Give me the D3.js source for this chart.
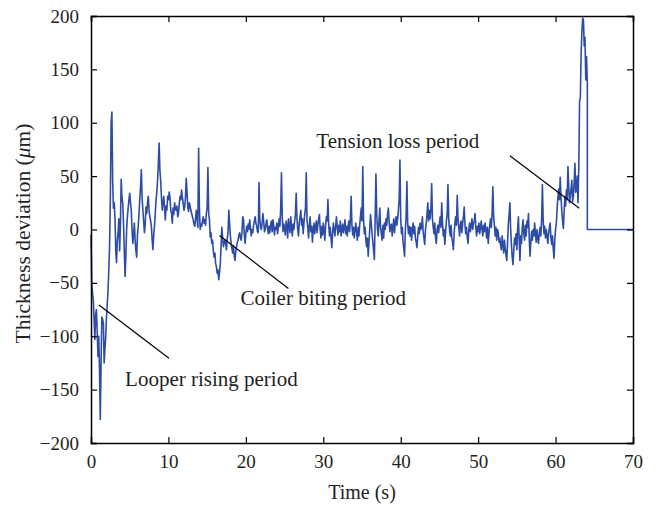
<!DOCTYPE html>
<html>
<head>
<meta charset="utf-8">
<script src="https://cdn.jsdelivr.net/npm/d3@7"></script>
<style>
  body { margin: 0; background: #fff; }
  text { font-family: "Liberation Serif", "DejaVu Serif", serif; fill: #231f20; }
</style>
</head>
<body>
<svg id="chart" width="663" height="506"></svg>
<script>
// sampled thickness deviation (um), one sample every 0.1 s from t = 0
var sampleStep = 0.1;
var deviation = [
  -5, -50, -60, -66, -85, -103, -80, -75, -95, -119,
  -100, -131, -178, -125, -82, -84, -88, -125, -112, -100,
  -82, -70, -57, -38, -15, 30, 100, 110, 45, 20,
  25, 10, -20, -31, -10, -3, 10, -20, 5, 47,
  30, 25, 5, -20, -44, -25, 0, 12, 20, 28,
  34, 25, 18, 0, -13, -5, 6, -10, -20, -26,
  -5, 3, 15, 28, 40, 56, 30, 18, 8, -3,
  5, 21, 15, 25, 31, 18, 12, 8, 3, -10,
  -19, -5, 3, 15, 28, 35, 46, 62, 81, 55,
  46, 30, 18, 25, 31, 20, 9, 22, 18, 31,
  28, 35, 30, 18, 15, 6, 20, 14, 25, 19,
  18, 22, 12, 15, 24, 31, 28, 37, 30, 25,
  18, 21, 30, 48, 35, 21, 17, 25, 22, 18,
  15, 12, 9, 5, 3, 10, 18, 10, 2, 76,
  20, 0, 5, 3, 8, 12, 6, 9, 4, 15,
  20, 58, 15, 9, -7, -3, -13, -10, -20, -26,
  -22, -32, -35, -41, -38, -47, -40, -32, -15, 2,
  -8, -16, -12, -10, -14, -19, -8, -3, 18, 5,
  -6, -13, -18, -22, -15, -25, -29, -20, -16, -12,
  -10, -5, -3, -8, -10, -2, 12, 9, -5, -13,
  -4, 3, -2, 5, 0, 9, 2, -6, 0, -3,
  4, 8, 12, 6, 3, -2, -3, 44, 10, 2,
  0, 6, 15, 8, -2, 0, 5, 9, 2, -4,
  3, -3, 4, 8, -2, 9, 3, -5, 2, 0,
  6, -4, 3, 10, 3, 20, 53, 12, -2, 5,
  2, -5, 8, 3, -8, 10, 4, -3, 12, 2,
  -6, 5, 0, 8, 14, 34, 10, 0, -6, 6,
  12, 18, 4, 10, -4, 6, 14, 20, 53, 8,
  2, -8, 4, 12, -2, 3, -12, 0, 6, -4,
  2, 8, -3, 4, 10, 14, 0, -8, 3, -5,
  6, 0, -10, 4, 12, 8, 28, 5, -6, 2,
  -8, -17, -4, 6, 0, -6, 3, 12, 2, -5,
  4, -2, 8, -6, 0, 5, -3, 2, 9, -4,
  3, -6, 2, 8, -2, 10, 31, 4, -5, 2,
  -8, 0, 6, -3, -10, 2, -6, 4, 12, 20,
  8, 59, 10, -4, 2, -10, -16, -8, -25, -12,
  0, 14, 6, -4, -12, -20, -28, 10, 52, 15,
  0, -6, 8, 20, 2, -4, -10, 4, -8, 6,
  0, 10, 4, 14, 20, 8, -2, 4, 5, -6,
  2, 10, -3, 6, 12, 4, 10, 18, 28, 65,
  10, -4, 2, -12, -18, -25, 0, 12, 45, 6,
  -4, 3, -6, 2, -10, 0, 6, -4, 3, -8,
  -12, -17, -6, 2, -4, 6, 0, 3, 12, -2,
  -8, -14, 0, 6, 14, 25, 8, 18, 10, 20,
  43, 10, 2, -4, 6, -8, -13, 0, 4, -3,
  6, 12, 2, 25, 6, -6, 0, -14, -2, 8,
  14, 42, 10, 0, -6, 4, -8, -12, -19, -4,
  6, 12, 4, 32, 10, 2, -6, 4, 8, -3,
  6, 12, 21, 4, -4, 2, -8, -13, 0, 6,
  -2, 4, 10, 0, 6, 8, 15, 2, -6, 3,
  -2, 6, -4, 2, 8, 0, -6, 4, -2, 6,
  0, -8, 2, -13, -4, 4, 10, 2, 14, 40,
  12, 4, -6, 2, -10, 0, -3, -12, -8, -15,
  -19, -6, -14, -22, -10, -18, -24, -29, -12, 5,
  14, 25, 0, -14, -26, -33, -20, -8, -14, -4,
  -19, 0, 12, -10, -29, -6, -13, 2, 9, -4,
  -10, 4, -6, 8, 2, 15, -8, -25, -12, -2,
  -10, 0, -6, 6, -4, -12, 0, -8, -13, -4,
  2, -6, 10, 42, 8, -4, 3, -8, 0, -6,
  -13, -4, 2, 6, -8, -14, -6, -18, -27, -10,
  0, 6, 20, 30, 38, 28, 49, 30, 18, 8,
  1, 15, 31, 22, 37, 28, 59, 40, 25, 31,
  38, 46, 26, 31, 44, 62, 35, 37, 50, 25,
  60, 120, 124, 165, 185, 198, 196, 172, 180, 140,
  162, 137
];
// after the strip leaves the mill the trace sits at zero
var tailTime = [64.1, 70];
var tailValue = [0, 0];

var xTicks = [0, 10, 20, 30, 40, 50, 60, 70];
var yTicks = [-200, -150, -100, -50, 0, 50, 100, 150, 200];

// annotations (data units)
var noteText = ["Looper rising period", "Coiler biting period", "Tension loss period"];
var noteTextT = [4.4, 19.3, 29.1];
var noteTextV = [-147, -71, 76];
var noteFromT = [1.03, 16.6, 54.1];
var noteFromV = [-70.7, -5.6, 69.1];
var noteToT = [10.07, 25.5, 63.06];
var noteToV = [-120.7, -55.3, 19.9];

var margin = {top: 16, right: 30, bottom: 63, left: 91},
    width = 663 - margin.left - margin.right,
    height = 506 - margin.top - margin.bottom;

var svg = d3.select("#chart");
var g = svg.append("g")
  .attr("transform", "translate(" + margin.left + "," + margin.top + ")");

var x = d3.scaleLinear().domain([0, 70]).range([0, width]);
var y = d3.scaleLinear().domain([-200, 200]).range([height, 0]);

var points = deviation.map(function (v, i) { return [i * sampleStep, v]; });
tailTime.forEach(function (t, i) { points.push([t, tailValue[i]]); });

var line = d3.line()
  .x(function (d) { return x(d[0]); })
  .y(function (d) { return y(d[1]); });

g.append("path")
  .datum(points)
  .attr("fill", "none")
  .attr("stroke", "#2d4ca5")
  .attr("stroke-width", 1.6)
  .attr("stroke-linejoin", "round")
  .attr("d", line);

// annotation leader lines + labels
noteText.forEach(function (txt, i) {
  g.append("line")
    .attr("x1", x(noteFromT[i])).attr("y1", y(noteFromV[i]))
    .attr("x2", x(noteToT[i])).attr("y2", y(noteToV[i]))
    .attr("stroke", "#000")
    .attr("stroke-width", 1.2);
  g.append("text")
    .attr("x", x(noteTextT[i]))
    .attr("y", y(noteTextV[i]))
    .attr("font-size", "21px")
    .text(txt);
});

// axes, matlab style box with inward ticks
function styleAxis(sel) {
  sel.select(".domain").attr("stroke", "#000").attr("stroke-width", 1.5);
  sel.selectAll(".tick line").attr("stroke", "#000").attr("stroke-width", 1.2);
  sel.selectAll(".tick text")
    .attr("font-family", '"Liberation Serif", serif')
    .attr("font-size", "19px")
    .attr("fill", "#231f20");
}

g.append("g")
  .attr("transform", "translate(0," + height + ")")
  .call(d3.axisBottom(x).tickValues(xTicks).tickSize(-6).tickPadding(12).tickFormat(d3.format("d")))
  .call(styleAxis);

g.append("g")
  .call(d3.axisTop(x).tickValues(xTicks).tickSize(-6).tickFormat(""))
  .call(styleAxis);

g.append("g")
  .call(d3.axisLeft(y).tickValues(yTicks).tickSize(-6).tickPadding(12)
    .tickFormat(function (d) { return d < 0 ? "\u2212" + Math.abs(d) : d; }))
  .call(styleAxis);

g.append("g")
  .attr("transform", "translate(" + width + ",0)")
  .call(d3.axisRight(y).tickValues(yTicks).tickSize(-6).tickFormat(""))
  .call(styleAxis);

// axis titles
svg.append("text")
  .attr("x", margin.left + width / 2)
  .attr("y", 499)
  .attr("text-anchor", "middle")
  .attr("font-size", "20px")
  .text("Time (s)");

var yl = svg.append("text")
  .attr("transform", "translate(30," + (margin.top + height / 2 + 4) + ") rotate(-90)")
  .attr("text-anchor", "middle")
  .attr("font-size", "21.5px");
yl.append("tspan").text("Thickness deviation (");
yl.append("tspan").attr("font-style", "italic").text("\u03bc");
yl.append("tspan").text("m)");
</script>
</body>
</html>
